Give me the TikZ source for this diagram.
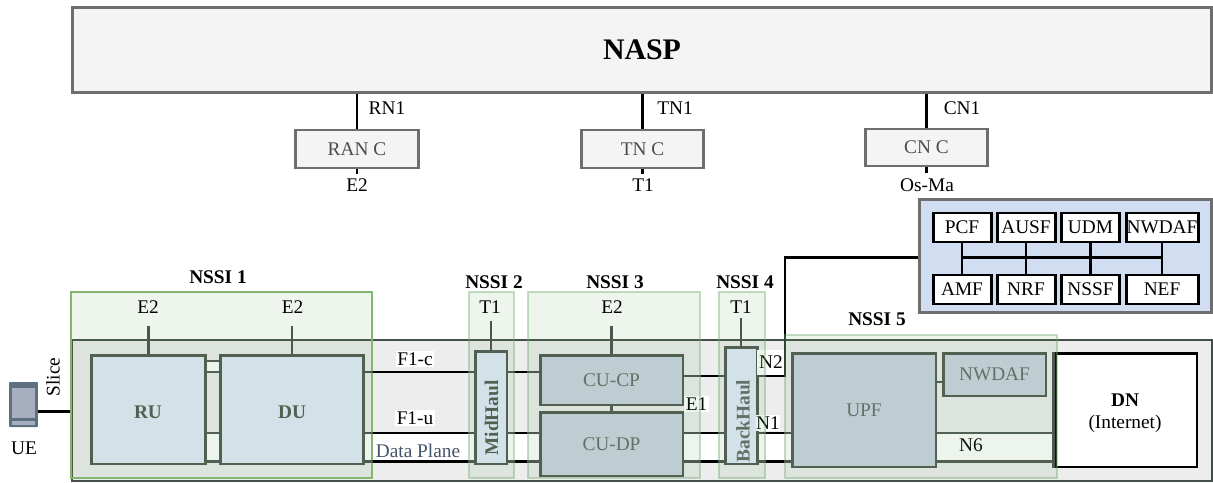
\documentclass[tikz,border=0pt]{standalone}
\usepackage{fontspec}
\setmainfont{Liberation Serif}
\definecolor{naspfill}{HTML}{F4F4F4}
\definecolor{edgegray}{HTML}{6E6E6E}
\definecolor{slicegray}{HTML}{EDEDED}
\definecolor{coreblue}{HTML}{D1DEF1}
\definecolor{bluefill}{HTML}{E1E9FB}
\definecolor{cufill}{HTML}{C9D2E0}
\definecolor{blockedge}{HTML}{4C584F}
\definecolor{mutetext}{HTML}{5F6B66}
\definecolor{nssigreen}{HTML}{6EAA6E}
\definecolor{nssiedge}{HTML}{84B56C}
\definecolor{planeblue}{HTML}{44546A}
\definecolor{uebody}{HTML}{5D6F80}
\definecolor{uescreen}{HTML}{A6AEC0}
\begin{document}
\begin{tikzpicture}[x=0.02cm, y=-0.02cm, font=\fontsize{11}{13}\selectfont,
    ctrl/.style={draw=edgegray, line width=1.7pt, fill=naspfill, text=black!70, minimum height=0.76cm, minimum width=2.45cm},
    block/.style={draw=blockedge, line width=1.7pt, fill=bluefill},
    cublock/.style={draw=blockedge, line width=1.7pt, fill=cufill, text=mutetext},
    func/.style={draw=black, line width=1.7pt, fill=white, minimum height=0.58cm, minimum width=1.16cm, inner sep=0pt},
    nssi/.style={draw=nssigreen, draw opacity=0.4, line width=1.5pt, fill=nssigreen, fill opacity=0.12},
    wire/.style={draw=black, line width=1.5pt},
    wirein/.style={draw=blockedge, line width=1.5pt},
    patch/.style={fill=white, inner sep=1pt},
    title/.style={font=\fontsize{11}{13}\selectfont\bfseries},
    blockname/.style={font=\fontsize{11}{13}\selectfont\bfseries, text=blockedge}]
  \useasboundingbox (0,0) rectangle (1213,483);

  \node[draw=edgegray, line width=1.7pt, fill=naspfill, minimum width=22.8cm, minimum height=1.72cm, font=\fontsize{17}{20}\selectfont\bfseries] (nasp) at (642,50) {NASP};
  \node[ctrl] (ranc) at (357,149) {RAN C};
  \node[ctrl] (tnc) at (642.5,149) {TN C};
  \node[ctrl, minimum height=0.74cm] (cnc) at (926.5,147.5) {CN C};
  \draw[wire] (nasp.south -| ranc.north) -- (ranc.north);
  \draw[wire] (nasp.south -| tnc.north) -- (tnc.north);
  \draw[wire] (nasp.south -| cnc.north) -- (cnc.north);
  \node (rnone) at (387,108) {RN1};
  \node (tnone) at (675,108) {TN1};
  \node (cnone) at (962,108) {CN1};
  \node (rane) at (357,185) {E2};
  \node (tnt) at (643,185) {T1};
  \node (cnos) at (927,185) {Os-Ma};
  \draw[wire] (ranc.south) -- ++(0,5);
  \draw[wire] (tnc.south) -- ++(0,5);
  \draw[wire] (cnc.south) -- ++(0,6);

  \node[draw=blockedge!90!black, line width=1.3pt, fill=slicegray, minimum width=22.8cm, minimum height=2.82cm] (slicebg) at (642,410.5) {};

  \coordinate (rowr) at (0,361);
  \coordinate (rowc) at (0,372);
  \coordinate (rowe) at (0,376);
  \coordinate (rown) at (0,382);
  \coordinate (rowu) at (0,433);
  \coordinate (rowd) at (0,461.5);
  \coordinate (rowue) at (0,411.7);
  \coordinate (turn) at (785,257.5);
  \coordinate (bandl) at (205,361);

  \fill[white] (bandl |- rowu) rectangle (1055,461.5);
  \fill[white] (bandl |- rowr) rectangle (221,372);

  \node[block] (ru) at (148.3,409.5) [minimum width=2.29cm, minimum height=2.18cm] {};
  \node[block] (du) at (292,409.5) [minimum width=2.85cm, minimum height=2.18cm] {};
  \node[block, rotate=90] (mid) at (491,407.5) [minimum width=2.26cm, minimum height=0.64cm] {};
  \node[cublock] (cucp) at (611.5,380) [minimum width=2.86cm, minimum height=1cm] {CU-CP};
  \node[cublock] (cudp) at (611.5,444) [minimum width=2.86cm, minimum height=1.28cm] {CU-DP};
  \node[block, rotate=90] (back) at (741,405.5) [minimum width=2.34cm, minimum height=0.64cm] {};
  \node[cublock] (upf) at (864,410) [minimum width=2.88cm, minimum height=2.28cm] {UPF};
  \node[cublock] (nwin) at (994.5,374.5) [minimum width=2.06cm, minimum height=0.86cm] {NWDAF};
  \node[draw=black, line width=1.7pt, fill=white, minimum width=2.84cm, minimum height=2.28cm] (dn) at (1126,410) {};
  \node[title] (dnname) at (1125,400) {DN};
  \node (dninet) at (1125,424) {(Internet)};
  \node[blockname] (runame) at (148,412) {RU};
  \node[blockname] (duname) at (292,412) {DU};
  \node[blockname, rotate=90] (midname) at (491.5,418) {MidHaul};
  \node[blockname, rotate=90, text=mutetext] (backname) at (743,421) {BackHaul};

  \foreach \r in {rowu,rowd} {
    \draw[wire] (du.east |- \r) -- (mid.north |- \r);
    \draw[wire] (mid.south |- \r) -- (cudp.west |- \r);
    \draw[wire] (cudp.east |- \r) -- (back.north |- \r);
    \draw[wire] (back.south |- \r) -- (upf.west |- \r);
    \draw[wirein] (upf.east |- \r) -- (dn.west |- \r);
    \draw[wirein] (ru.east |- \r) -- (du.west |- \r);
  }
  \draw[wire] (du.east |- rowc) -- (mid.north |- rowc);
  \draw[wire] (mid.south |- rowc) -- (cucp.west |- rowc);
  \draw[wire] (cucp.east |- rowe) -- (back.north |- rowe);
  \draw[wirein] (ru.east |- rowr) -- (du.west |- rowr);
  \draw[wirein] (ru.east |- rowc) -- (du.west |- rowc);
  \draw[wirein] (upf.east |- rown) -- (nwin.west |- rown);
  \draw[wirein] (cucp.south) -- (cudp.north);

  \node[patch] (fc) at (415,359) {F1-c};
  \node[patch] (fu) at (415,418) {F1-u};
  \node[patch] (ee) at (696.5,404) {E1};
  \node[patch, minimum width=0.5cm, minimum height=0.5cm] (ntwo) at (771,362) {N2};
  \node[patch, inner xsep=0pt] (none) at (768,423) {N1};
  \draw[wire] (back.south |- rowe) -| (turn) -- (918,257.5);
  \node[text=planeblue] (plane) at (418,451) {Data Plane};
  \node (nsix) at (971,445) {N6};

  \node[nssi, draw=nssiedge, draw opacity=1, minimum width=6.02cm, minimum height=3.72cm] (nssia) at (221.5,385) {};
  \node[nssi, minimum width=0.9cm, minimum height=3.72cm] (nssib) at (491.5,385) {};
  \node[nssi, minimum width=3.44cm, minimum height=3.72cm] (nssic) at (614,385) {};
  \node[nssi, minimum width=0.92cm, minimum height=3.72cm] (nssid) at (742,385) {};
  \node[nssi, minimum width=5.44cm, minimum height=2.86cm] (nssie) at (921,406.5) {};

  \foreach \a/\b in {du.east/nssia.east, nssib.west/mid.north, mid.south/nssib.east, nssic.west/cudp.west, cudp.east/nssic.east, nssid.west/back.north, back.south/nssid.east, nssie.west/upf.west} {
    \draw[wirein] (\a |- rowu) -- (\b |- rowu);
    \draw[wirein] (\a |- rowd) -- (\b |- rowd);
  }
  \foreach \a/\b in {du.east/nssia.east, nssib.west/mid.north, mid.south/nssib.east, nssic.west/cucp.west} {
    \draw[wirein] (\a |- rowc) -- (\b |- rowc);
  }
  \foreach \a/\b in {cucp.east/nssic.east, nssid.west/back.north, back.south/nssid.east} {
    \draw[wirein] (\a |- rowe) -- (\b |- rowe);
  }
  \draw[wirein] (dn.north west) -- (dn.south west);

  \node[title] (nssione) at (218,277) {NSSI 1};
  \node[title] (nssitwo) at (494,282) {NSSI 2};
  \node[title] (nssithree) at (615,282) {NSSI 3};
  \node[title] (nssifour) at (745,282) {NSSI 4};
  \node[title] (nssifive) at (877,319) {NSSI 5};

  \node (eru) at (148,307) {E2};
  \node (edu) at (292.5,307) {E2};
  \node (tmid) at (490,307) {T1};
  \node (ecu) at (612,307) {E2};
  \node (tback) at (741,307) {T1};
  \coordinate (stubru) at (148.3,326);
  \coordinate (stubdu) at (292,326);
  \coordinate (stubmid) at (491,321);
  \coordinate (stubcu) at (611.5,326);
  \coordinate (stubback) at (741,318);
  \draw[wirein] (ru.north) -- (stubru);
  \draw[wirein] (du.north) -- (stubdu);
  \draw[wirein] (mid.east) -- (stubmid);
  \draw[wirein] (cucp.north) -- (stubcu);
  \draw[wirein] (back.east) -- (stubback);

  \node[fill=uebody, minimum width=0.58cm, minimum height=0.9cm, inner sep=0pt, rounded corners=0.5pt] (ue) at (23.5,404.5) {};
  \fill[uescreen] (12,388) rectangle (35,418);
  \fill[uescreen] (12,421) rectangle (35,425);
  \draw[wire] (ue.east |- rowue) -- (nssia.west |- rowue);
  \node[rotate=90] (slice) at (53,377) {Slice};
  \node (uename) at (24,448) {UE};

  \node[draw=edgegray, line width=1.7pt, fill=coreblue, minimum width=5.86cm, minimum height=2.28cm] (core) at (1065.5,256) {};
  \coordinate (busl) at (962,257.5);
  \coordinate (busr) at (1162,257.5);
  \node[func] (pcf) at (962,227.5) {PCF};
  \node[func] (ausf) at (1026,227.5) {AUSF};
  \node[func] (udm) at (1090.5,227.5) {UDM};
  \node[func, minimum width=1.44cm] (nwdaf) at (1162,227.5) {NWDAF};
  \node[func] (amf) at (962,289.5) {AMF};
  \node[func] (nrf) at (1026,289.5) {NRF};
  \node[func] (nssf) at (1090.5,289.5) {NSSF};
  \node[func, minimum width=1.44cm] (nef) at (1162,289.5) {NEF};
  \draw[wire] (busl) -- (busr);
  \draw[wire] (pcf) -- (amf);
  \draw[wire] (ausf) -- (nrf);
  \draw[wire] (udm) -- (nssf);
  \draw[wire] (nwdaf) -- (nef);
\end{tikzpicture}
\end{document}
